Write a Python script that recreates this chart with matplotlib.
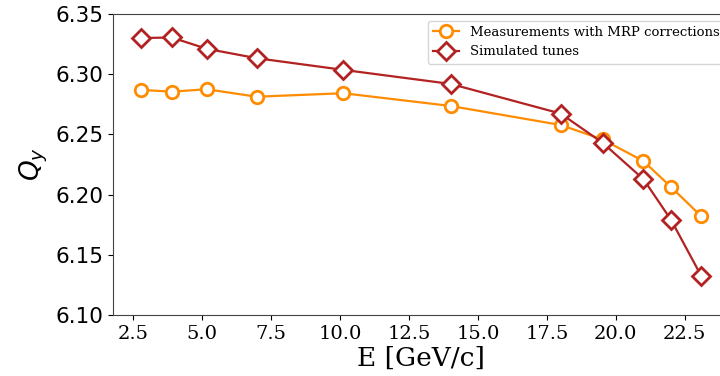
import matplotlib
matplotlib.use("Agg")
from matplotlib import pyplot as plt

energy = [2.78, 3.9, 5.17, 6.98, 10.12, 14.02, 18.0, 19.52, 21.0, 22.0, 23.1]
q_meas = [6.287, 6.2855, 6.2875, 6.2813, 6.2842, 6.2736, 6.2578, 6.2458, 6.2278, 6.2063, 6.1819]
q_sim = [6.330, 6.3305, 6.3211, 6.3133, 6.3036, 6.2919, 6.2673, 6.2430, 6.2128, 6.179, 6.1322]

plt.rcParams['font.family'] = 'DejaVu Serif'
plt.rcParams['mathtext.fontset'] = 'dejavusans'

fig = plt.figure(figsize=(7.2, 3.76), dpi=100)
# axes run a little past the right edge, as in the cropped original
ax = fig.add_axes([113/720, 1 - 315/376, 616/720, 301/376])

ax.plot(energy, q_meas, color='darkorange', marker='o', ms=9, mfc='white',
        mew=2, lw=1.6, label='Measurements with MRP corrections')
ax.plot(energy, q_sim, color='firebrick', marker='D', ms=9, mfc='white',
        mew=2, lw=1.6, label='Simulated tunes')

ax.set_ylim(6.10, 6.35)
ax.set_xlim(1.775, 24.1)
ax.set_xticks([2.5, 5.0, 7.5, 10.0, 12.5, 15.0, 17.5, 20.0, 22.5])
ax.tick_params(axis='x', labelsize=14)
ax.tick_params(axis='y', labelsize=15.5)
for t in ax.get_yticklabels():
    t.set_family('DejaVu Sans')
for s in ax.spines.values():
    s.set_color('#444444')

ax.set_xlabel('E [GeV/c]', fontsize=19, labelpad=2)
ax.set_ylabel('$Q_y$', fontsize=19)

ax.legend(loc='upper right', fontsize=9.5, bbox_to_anchor=(1.004, 1.0))

fig.savefig('out.png', dpi=100)
